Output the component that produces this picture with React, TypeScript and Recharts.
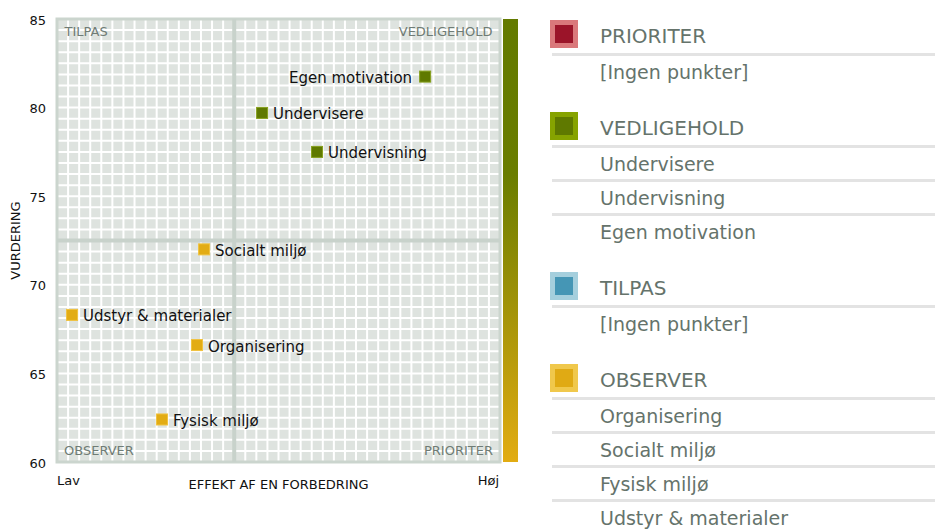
import React from 'react';
import {
  ScatterChart,
  Scatter,
  XAxis,
  YAxis,
  CartesianGrid,
  ReferenceLine,
  ReferenceArea,
  Customized,
  usePlotArea,
} from 'recharts';

// ---- data ----
const VEDLIGEHOLD_NAMES = ['Egen motivation', 'Undervisere', 'Undervisning'];
const VEDLIGEHOLD_EFFEKT = [83.1, 46.3, 58.7];
const VEDLIGEHOLD_VURDERING = [81.75, 79.7, 77.5];

const OBSERVER_NAMES = ['Socialt miljø', 'Udstyr & materialer', 'Organisering', 'Fysisk miljø'];
const OBSERVER_EFFEKT = [33.2, 3.4, 31.6, 23.7];
const OBSERVER_VURDERING = [72.0, 68.3, 66.6, 62.4];

const Y_TICK_LABELS = [60, 65, 70, 75, 80, 85];
const X_DOMAIN = [0, 100];
const Y_DOMAIN = [60, 85];
const X_SPLIT = 40;
const Y_SPLIT = 72.5;

const QUADRANTS = ['PRIORITER', 'VEDLIGEHOLD', 'TILPAS', 'OBSERVER'];
const PRIORITER_ITEMS: string[] = [];
const VEDLIGEHOLD_ITEMS = ['Undervisere', 'Undervisning', 'Egen motivation'];
const TILPAS_ITEMS: string[] = [];
const OBSERVER_ITEMS = ['Organisering', 'Socialt miljø', 'Fysisk miljø', 'Udstyr & materialer'];
const EMPTY_TEXT = '[Ingen punkter]';

// grid subdivisions (40 x 40 cells)
const X_GRID_TICKS: number[] = [];
for (let i = 0; i <= 40; i++) X_GRID_TICKS.push(X_DOMAIN[0] + ((X_DOMAIN[1] - X_DOMAIN[0]) * i) / 40);
const Y_GRID_TICKS: number[] = [];
for (let i = 0; i <= 40; i++) Y_GRID_TICKS.push(Y_DOMAIN[0] + ((Y_DOMAIN[1] - Y_DOMAIN[0]) * i) / 40);

const vedligeholdData = VEDLIGEHOLD_NAMES.map((navn, i) => ({
  navn,
  effekt: VEDLIGEHOLD_EFFEKT[i],
  vurdering: VEDLIGEHOLD_VURDERING[i],
}));
const observerData = OBSERVER_NAMES.map((navn, i) => ({
  navn,
  effekt: OBSERVER_EFFEKT[i],
  vurdering: OBSERVER_VURDERING[i],
}));

const FONT = '"DejaVu Sans", Verdana, sans-serif';
const QUAD_TEXT = '#6f7c75';
const LEGEND_TEXT = '#65736b';

const makeShape = (fill: string, stroke: string) => (props: any) => {
  const { cx, cy, payload } = props;
  const left = payload.effekt > 75;
  return (
    <g>
      <rect x={cx - 5.5} y={cy - 5.5} width={11} height={11} fill={fill} stroke={stroke} strokeWidth={1} />
      <text
        x={left ? cx - 13 : cx + 11}
        y={cy + 1.5}
        textAnchor={left ? 'end' : 'start'}
        dominantBaseline="central"
        fontSize={15}
        fontFamily={FONT}
        fill="#111"
      >
        {payload.navn}
      </text>
    </g>
  );
};

const YTick = (props: any) => {
  const { x, y, payload } = props;
  if (!Y_TICK_LABELS.includes(payload.value)) return <g />;
  return (
    <text x={x - 3} y={y + 1} textAnchor="end" dominantBaseline="central" fontSize={13} fontFamily={FONT} fill="#111">
      {payload.value}
    </text>
  );
};

const EmptyTick = () => <g />;

const Extras = () => {
  const pa = usePlotArea();
  if (!pa) return null;
  const { x, y, width, height } = pa;
  return (
    <g>
      <defs>
        <linearGradient id="bar-grad" x1="0" y1="0" x2="0" y2="1">
          <stop offset="0%" stopColor="#637a00" />
          <stop offset="35%" stopColor="#6a7d00" />
          <stop offset="100%" stopColor="#e2ac12" />
        </linearGradient>
      </defs>
      <rect x={x + width + 3} y={y} width={15} height={height} fill="url(#bar-grad)" />
      <text
        x={15}
        y={y + height / 2}
        transform={`rotate(-90 15 ${y + height / 2})`}
        textAnchor="middle"
        dominantBaseline="central"
        fontSize={13}
        fontFamily={FONT}
        fill="#111"
      >
        VURDERING
      </text>
      <text x={x} y={y + height + 18} dominantBaseline="central" fontSize={13} fontFamily={FONT} fill="#111">
        Lav
      </text>
      <text
        x={x + width / 2}
        y={y + height + 22}
        textAnchor="middle"
        dominantBaseline="central"
        fontSize={13}
        fontFamily={FONT}
        fill="#111"
      >
        EFFEKT AF EN FORBEDRING
      </text>
      <text
        x={x + width - 1}
        y={y + height + 18}
        textAnchor="end"
        dominantBaseline="central"
        fontSize={13}
        fontFamily={FONT}
        fill="#111"
      >
        Høj
      </text>
    </g>
  );
};

const quadLabel = (value: string, position: any, offset: number) => ({
  value,
  position,
  offset,
  fill: QUAD_TEXT,
  fontSize: 13,
  fontFamily: FONT,
});

const LEGEND_STYLE: Record<string, { outer: string; inner: string; items: string[] }> = {
  PRIORITER: { outer: '#da787b', inner: '#9b1429', items: PRIORITER_ITEMS },
  VEDLIGEHOLD: { outer: '#86a300', inner: '#5f7900', items: VEDLIGEHOLD_ITEMS },
  TILPAS: { outer: '#a5cfdd', inner: '#4596b5', items: TILPAS_ITEMS },
  OBSERVER: { outer: '#f0c84c', inner: '#e0aa14', items: OBSERVER_ITEMS },
};

const Legend = () => (
  <div style={{ position: 'absolute', left: 550, top: 19, width: 385, fontFamily: FONT, color: LEGEND_TEXT }}>
    {QUADRANTS.map((q, gi) => {
      const st = LEGEND_STYLE[q];
      const items = st.items.length ? st.items : [EMPTY_TEXT];
      return (
        <div key={q} style={{ marginTop: gi === 0 ? 0 : 24 }}>
          <div style={{ position: 'relative', height: 34, borderBottom: '3px solid #e3e3e3', marginLeft: 2 }}>
            <div
              style={{
                position: 'absolute',
                left: -2,
                top: 1,
                width: 18,
                height: 18,
                border: `5px solid ${st.outer}`,
                background: st.inner,
              }}
            />
            <div style={{ position: 'absolute', left: 48, top: 0, lineHeight: '34px', fontSize: 20 }}>{q}</div>
          </div>
          {items.map((it, i) => (
            <div
              key={it}
              style={{
                height: 31,
                lineHeight: '32px',
                fontSize: 19,
                paddingLeft: 48,
                marginLeft: 2,
                borderBottom: i < items.length - 1 ? '3px solid #e3e3e3' : 'none',
              }}
            >
              {it}
            </div>
          ))}
        </div>
      );
    })}
  </div>
);

export default function App() {
  return (
    <div style={{ position: 'absolute', left: 0, top: 0, width: 935, height: 529, background: '#fff', overflow: 'hidden' }}>
      <ScatterChart width={935} height={529} margin={{ top: 19, right: 435, bottom: 0, left: 0 }}>
        <CartesianGrid fill="#dee3df" stroke="#ffffff" strokeWidth={2} fillOpacity={1} vertical horizontal />
        <XAxis
          type="number"
          dataKey="effekt"
          domain={X_DOMAIN}
          ticks={X_GRID_TICKS}
          interval={0}
          tick={<EmptyTick />}
          axisLine={false}
          tickLine={false}
          height={67}
        />
        <YAxis
          type="number"
          dataKey="vurdering"
          domain={Y_DOMAIN}
          ticks={Y_GRID_TICKS}
          interval={0}
          tick={<YTick />}
          axisLine={false}
          tickLine={false}
          width={57}
        />
        <ReferenceLine x={X_SPLIT} stroke="#c8d2cb" strokeWidth={4} />
        <ReferenceLine y={Y_SPLIT} stroke="#c8d2cb" strokeWidth={4} />
        <ReferenceArea
          x1={X_DOMAIN[0]}
          x2={X_DOMAIN[1]}
          y1={Y_DOMAIN[0]}
          y2={Y_DOMAIN[1]}
          fill="none"
          stroke="#cbd5ce"
          strokeWidth={3}
        />
        <ReferenceArea x1={X_DOMAIN[0]} x2={X_SPLIT} y1={Y_SPLIT} y2={Y_DOMAIN[1]} fill="none" label={quadLabel('TILPAS', 'insideTopLeft', 7.5)} />
        <ReferenceArea x1={X_SPLIT} x2={X_DOMAIN[1]} y1={Y_SPLIT} y2={Y_DOMAIN[1]} fill="none" label={quadLabel('VEDLIGEHOLD', 'insideTopRight', 7.5)} />
        <ReferenceArea x1={X_DOMAIN[0]} x2={X_SPLIT} y1={Y_DOMAIN[0]} y2={Y_SPLIT} fill="none" label={quadLabel('OBSERVER', 'insideBottomLeft', 7)} />
        <ReferenceArea x1={X_SPLIT} x2={X_DOMAIN[1]} y1={Y_DOMAIN[0]} y2={Y_SPLIT} fill="none" label={quadLabel('PRIORITER', 'insideBottomRight', 7)} />
        <Scatter data={vedligeholdData} shape={makeShape('#5f7900', '#86a01c')} isAnimationActive={false} />
        <Scatter data={observerData} shape={makeShape('#e2ac14', '#f0c23e')} isAnimationActive={false} />
        <Customized component={Extras} />
      </ScatterChart>
      <Legend />
    </div>
  );
}
